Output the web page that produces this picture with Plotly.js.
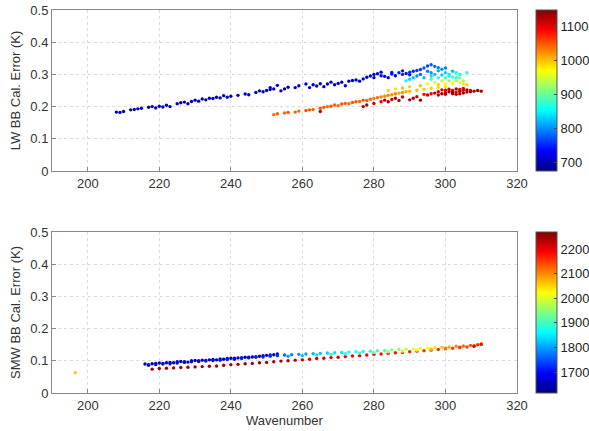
<!DOCTYPE html>
<html><head><meta charset="utf-8">
<script src="https://cdn.plot.ly/plotly-3.0.1.min.js"></script>
<style>html,body{margin:0;padding:0;background:#fff}#chart{width:589px;height:431px}</style>
</head><body><div id="chart"></div>
<script>
// ---- LW panel data ----
const lwBlueX = [208,209,210,212,213,214,215,217,218,219,220,221,222,223,225,226,227,228,229,230,231,232,233,234,235,236,237,238,239,240,242,244,245,247,248,249,250,251,251,252,253,254,255,256,258,259,261,262,263,264,265,266,267,268,269,270,271,272,273,274,275,276,277,278,279,280,280,281,282,282,283,284,285,285,286,287,288,288,289,290,290,291,292];
const lwBlueY = [0.183,0.182,0.185,0.190,0.191,0.193,0.195,0.198,0.200,0.196,0.201,0.199,0.204,0.200,0.209,0.212,0.214,0.209,0.216,0.220,0.217,0.224,0.221,0.226,0.225,0.229,0.227,0.234,0.229,0.232,0.235,0.239,0.237,0.244,0.249,0.246,0.250,0.259,0.253,0.255,0.266,0.249,0.255,0.260,0.259,0.265,0.270,0.259,0.268,0.264,0.271,0.262,0.270,0.276,0.268,0.272,0.276,0.265,0.279,0.281,0.283,0.279,0.286,0.291,0.295,0.290,0.300,0.302,0.307,0.296,0.294,0.290,0.301,0.306,0.296,0.305,0.311,0.300,0.303,0.307,0.299,0.310,0.312];
const lwBlueC = [700,695,705,700,698,702,700,705,698,700,702,700,705,700,698,702,700,705,700,698,702,700,705,700,698,702,700,705,700,698,702,700,705,700,698,702,700,705,700,698,702,700,705,700,710,702,700,705,700,708,702,700,705,712,700,708,702,715,700,710,705,712,718,708,715,720,710,725,715,730,720,725,735,740,730,745,740,750,745,755,740,750,760];

const lwMidX = [293,294,295,296,297,298,295,296,297,298,299,300,301,293,291,290,289,300,302,303,304,306,296,298,300,302,304,305,303,301,299,297,295,300,302,304,305,306,298,293,290,288,286,284,292,294,296,299,301,303];
const lwMidY = [0.315,0.320,0.326,0.330,0.325,0.321,0.310,0.305,0.300,0.311,0.316,0.305,0.300,0.300,0.290,0.285,0.280,0.320,0.310,0.305,0.300,0.305,0.285,0.290,0.290,0.292,0.290,0.280,0.280,0.280,0.280,0.275,0.270,0.270,0.272,0.275,0.270,0.268,0.268,0.265,0.262,0.258,0.255,0.250,0.295,0.290,0.295,0.298,0.295,0.290];
const lwMidC = [760,770,765,772,780,790,790,800,820,810,800,830,840,780,820,830,850,790,820,850,860,870,880,870,890,880,900,920,930,920,940,950,960,970,975,960,980,990,990,1000,990,1000,980,990,800,820,840,830,850,870];

const lwOrX = [252,253,255,256,258,259,261,262,263,265,266,267,268,269,270,271,272,273,274,275,276,277,278,279,280,281,282,283,284,285,286,287,288,289,290,292,294,296,298,300,265];
const lwOrY = [0.175,0.178,0.180,0.182,0.183,0.186,0.188,0.190,0.191,0.195,0.198,0.200,0.201,0.205,0.203,0.208,0.210,0.209,0.213,0.215,0.216,0.220,0.219,0.223,0.225,0.228,0.230,0.232,0.235,0.237,0.240,0.242,0.244,0.246,0.248,0.251,0.254,0.257,0.260,0.262,0.185];
const lwOrC = [1040,1045,1040,1050,1045,1040,1050,1045,1040,1050,1045,1040,1050,1045,1040,1050,1045,1040,1050,1045,1040,1050,1045,1040,1030,1040,1030,1025,1030,1020,1030,1015,1020,1010,1000,1000,995,990,985,980,1120];

const lwRedX = [277,278,280,282,283,284,285,286,287,288,290,291,292,293,294,295,296,297,298,299,300,300,301,302,302,303,303,304,304,305,305,306,306,307,308,309,310,299,301,303,305,307,298,300,302,304];
const lwRedY = [0.200,0.205,0.210,0.215,0.220,0.215,0.222,0.226,0.219,0.230,0.221,0.226,0.231,0.220,0.238,0.236,0.240,0.242,0.246,0.240,0.243,0.251,0.246,0.240,0.250,0.245,0.255,0.248,0.240,0.251,0.256,0.245,0.252,0.250,0.248,0.250,0.248,0.252,0.254,0.238,0.242,0.246,0.236,0.238,0.244,0.253];
const lwRedC = [1130,1120,1110,1100,1120,1130,1110,1130,1120,1110,1130,1120,1110,1130,1090,1110,1100,1120,1110,1130,1120,1100,1130,1120,1110,1100,1120,1130,1120,1110,1100,1120,1130,1110,1120,1130,1120,1100,1110,1120,1130,1125,1115,1125,1135,1105];

// ---- SMW panel data ----
const swBlueX = [216,217,218,219,220,221,222,223,224,225,226,227,228,229,230,231,232,233,234,235,236,237,238,239,240,241,242,243,244,245,246,247,248,249,250,251,252,253,217,219,221,223,225,227,229,231,233,235,237,239,241,243,245,247,249,251,253];
const swBlueY = [0.090,0.088,0.091,0.092,0.093,0.092,0.094,0.095,0.094,0.097,0.098,0.097,0.096,0.100,0.101,0.100,0.102,0.101,0.103,0.104,0.103,0.106,0.105,0.107,0.108,0.108,0.109,0.110,0.111,0.111,0.112,0.113,0.114,0.116,0.117,0.118,0.119,0.121,0.086,0.088,0.090,0.091,0.093,0.095,0.097,0.098,0.099,0.101,0.102,0.104,0.105,0.107,0.109,0.111,0.112,0.114,0.116];
const swBlueC = [1650,1660,1645,1655,1650,1660,1645,1655,1650,1660,1645,1655,1650,1660,1645,1655,1650,1660,1645,1655,1650,1660,1645,1655,1650,1660,1645,1655,1650,1660,1645,1655,1650,1660,1645,1655,1650,1660,1680,1690,1685,1700,1690,1695,1700,1690,1710,1700,1705,1710,1700,1715,1710,1720,1715,1725,1730];

const swMidX = [255,257,259,261,263,265,267,269,271,273,275,277,279,281,283,285,287,289,291,293,295,297,299,301,303,305,307,309,310,256,260,264,268,272,276,280,284,288,292,296,300,304,308];
const swMidY = [0.118,0.119,0.120,0.121,0.122,0.123,0.124,0.125,0.126,0.127,0.128,0.129,0.130,0.131,0.132,0.134,0.135,0.136,0.137,0.138,0.140,0.141,0.142,0.143,0.145,0.146,0.148,0.150,0.151,0.114,0.116,0.118,0.120,0.122,0.124,0.126,0.128,0.130,0.133,0.136,0.139,0.142,0.146];
const swMidC = [1760,1780,1790,1800,1810,1820,1830,1840,1850,1860,1870,1880,1890,1900,1920,1940,1960,1980,2000,2010,2020,2040,2060,2080,2100,2120,2140,2160,2180,1800,1820,1840,1860,1880,1900,1930,1960,1990,2030,2070,2110,2150,2190];

const swRedX = [218,220,222,224,226,228,230,232,234,236,238,240,242,244,246,248,250,252,254,256,258,260,262,264,266,268,270,272,274,276,278,280,282,284,286,288,290,292,294,296,298,300,302,304,306,308,310];
const swRedY = [0.074,0.076,0.077,0.078,0.079,0.080,0.081,0.082,0.083,0.084,0.086,0.088,0.089,0.091,0.092,0.094,0.095,0.097,0.099,0.100,0.102,0.103,0.105,0.107,0.108,0.110,0.111,0.113,0.115,0.116,0.118,0.120,0.121,0.123,0.125,0.126,0.128,0.130,0.131,0.133,0.135,0.137,0.139,0.141,0.143,0.145,0.152];
const swRedC = [2250,2250,2250,2250,2250,2250,2250,2250,2250,2250,2250,2250,2250,2250,2250,2250,2240,2240,2240,2230,2230,2230,2220,2220,2220,2210,2210,2200,2200,2200,2190,2190,2180,2180,2180,2170,2170,2170,2160,2160,2160,2150,2150,2150,2150,2160,2170];

const swOutX = [196.5];
const swOutY = [0.063];
const swOutC = [2060];

const xTicks = [200,220,240,260,280,300,320];
const yTicks = [0,0.1,0.2,0.3,0.4,0.5];
const lwCbTicks = [700,800,900,1000,1100];
const swCbTicks = [1700,1800,1900,2000,2100,2200];

const jet = [[0,'rgb(0,0,128)'],[0.125,'rgb(0,0,255)'],[0.375,'rgb(0,255,255)'],[0.625,'rgb(255,255,0)'],[0.875,'rgb(255,0,0)'],[1,'rgb(128,0,0)']];

const lwX = [].concat(lwBlueX, lwMidX, lwOrX, lwRedX);
const lwY = [].concat(lwBlueY, lwMidY, lwOrY, lwRedY);
const lwC = [].concat(lwBlueC, lwMidC, lwOrC, lwRedC);
const swX = [].concat(swOutX, swRedX, swBlueX, swMidX);
const swY = [].concat(swOutY, swRedY, swBlueY, swMidY);
const swC = [].concat(swOutC, swRedC, swBlueC, swMidC);

const cbFont = {family:'Liberation Sans, Arial, sans-serif', size:13, color:'#222'};
const cbX = (536-52)/465;
const traces = [
  {type:'scatter', mode:'markers', x:lwX, y:lwY, xaxis:'x', yaxis:'y', hoverinfo:'skip',
   marker:{size:3.4, color:lwC, colorscale:jet, cmin:674, cmax:1147,
     colorbar:{x:cbX, xanchor:'left', y:1, yanchor:'top', len:0.4204, lenmode:'fraction', thickness:21, thicknessmode:'pixels', xpad:0, ypad:0, outlinewidth:1, outlinecolor:'#555', tickvals:lwCbTicks, ticks:'inside', ticklen:3, tickfont:cbFont}}},
  {type:'scatter', mode:'markers', x:swX, y:swY, xaxis:'x2', yaxis:'y2', hoverinfo:'skip',
   marker:{size:3.4, color:swC, colorscale:jet, cmin:1615, cmax:2270,
     colorbar:{x:cbX, xanchor:'left', y:0.4204, yanchor:'top', len:0.4204, lenmode:'fraction', thickness:21, thicknessmode:'pixels', xpad:0, ypad:0, outlinewidth:1, outlinecolor:'#555', tickvals:swCbTicks, ticks:'inside', ticklen:3, tickfont:cbFont}}}
];

const axFont = {family:'Liberation Sans, Arial, sans-serif', size:13, color:'#333'};
function xax(anchor, title){
  return {range:[190,320], tickvals:xTicks, anchor:anchor, showline:true, mirror:true, linecolor:'#888', linewidth:1,
    ticks:'inside', ticklen:4, tickcolor:'#888', showgrid:true, gridcolor:'#dcdcdc', griddash:'dot', zeroline:false,
    tickfont:axFont, title: title ? {text:title, font:axFont, standoff:2} : undefined};
}
function yax(anchor, domain, title){
  return {range:[0,0.5], tickvals:yTicks, anchor:anchor, domain:domain, showline:true, mirror:true, linecolor:'#888', linewidth:1,
    ticks:'inside', ticklen:4, tickcolor:'#888', showgrid:true, gridcolor:'#dcdcdc', griddash:'dot', zeroline:false,
    tickfont:axFont, title:{text:title, font:axFont, standoff:6}};
}
const layout = {
  width:589, height:431, margin:{l:52, r:72, t:10, b:38, autoexpand:false}, showlegend:false,
  paper_bgcolor:'#fff', plot_bgcolor:'#fff',
  xaxis: Object.assign(xax('y'), {domain:[0,1]}),
  yaxis: yax('x', [0.5796,1], 'LW BB Cal. Error (K)'),
  xaxis2: Object.assign(xax('y2','Wavenumber'), {domain:[0,1]}),
  yaxis2: yax('x2', [0,0.4204], 'SMW BB Cal. Error (K)')
};
Plotly.newPlot('chart', traces, layout, {displayModeBar:false, staticPlot:true});
</script></body></html>
